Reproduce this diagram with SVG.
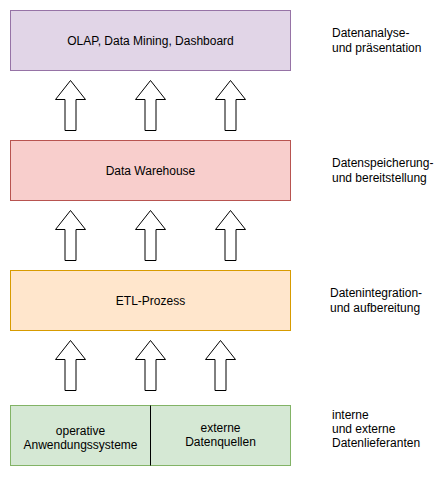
<svg xmlns="http://www.w3.org/2000/svg" width="444" height="477" viewBox="0 0 444 477">
<style>
text{font-family:"Liberation Sans",Arial,Helvetica,sans-serif;font-size:12px;fill:#000}
.c{text-anchor:middle}
.arrow{fill:#fff;stroke:#000;stroke-width:1}
</style>
<defs>
<path id="arr" d="M0,0 L15,19 L5.5,19 L5.5,50 L-5.5,50 L-5.5,19 L-15,19 Z"/>
</defs>
<rect width="444" height="477" fill="#fff"/>
<g id="olap">
<rect x="10.5" y="10.5" width="280" height="60" fill="#e1d5e7" stroke="#9673a6"/>
<text class="c" x="150.5" y="44.5">OLAP, Data Mining, Dashboard</text>
</g>
<g id="dwh">
<rect x="10.5" y="140.5" width="280" height="60" fill="#f8cecc" stroke="#b85450"/>
<text class="c" x="150.5" y="174.5">Data Warehouse</text>
</g>
<g id="etl">
<rect x="10.5" y="270.5" width="280" height="60" fill="#ffe6cc" stroke="#d79b00"/>
<text class="c" x="150.5" y="304.5">ETL-Prozess</text>
</g>
<g id="quellen">
<rect x="10.5" y="405.5" width="280" height="60" fill="#d5e8d4" stroke="#82b366"/>
<line x1="150.5" y1="405.5" x2="150.5" y2="465.5" stroke="#000"/>
<text class="c" x="80.5" y="435">operative</text>
<text class="c" x="80.5" y="449">Anwendungssysteme</text>
<text class="c" x="220.5" y="432">externe</text>
<text class="c" x="220.5" y="446">Datenquellen</text>
</g>
<g id="connectors">
<use href="#arr" class="arrow" x="70.5" y="80.5"/>
<use href="#arr" class="arrow" x="150.5" y="80.5"/>
<use href="#arr" class="arrow" x="230.5" y="80.5"/>
<use href="#arr" class="arrow" x="70.5" y="210.5"/>
<use href="#arr" class="arrow" x="150.5" y="210.5"/>
<use href="#arr" class="arrow" x="230.5" y="210.5"/>
<use href="#arr" class="arrow" x="70.5" y="340.5"/>
<use href="#arr" class="arrow" x="150.5" y="340.5"/>
<use href="#arr" class="arrow" x="220.5" y="340.5"/>
</g>
<g id="labels">
<text x="332" y="37">Datenanalyse-</text>
<text x="332" y="51.5">und präsentation</text>
<text x="332" y="167">Datenspeicherung-</text>
<text x="332" y="181.5">und bereitstellung</text>
<text x="330" y="297">Datenintegration-</text>
<text x="330" y="311.5">und aufbereitung</text>
<text x="332" y="419">interne</text>
<text x="332" y="433">und externe</text>
<text x="332" y="447">Datenlieferanten</text>
</g>
</svg>
